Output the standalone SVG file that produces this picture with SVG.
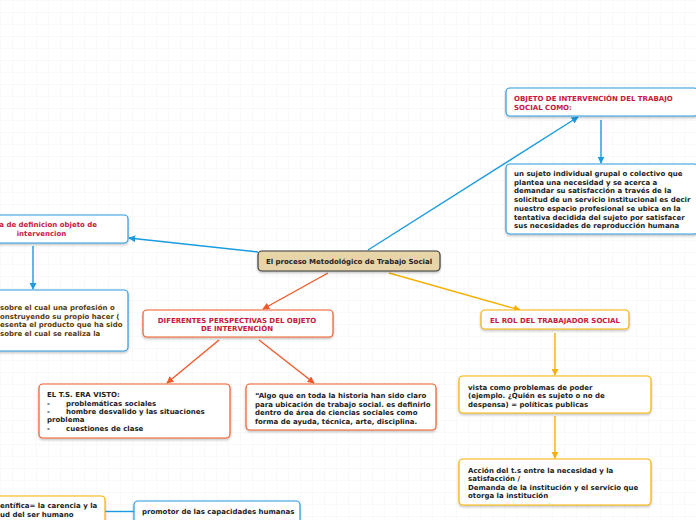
<svg xmlns="http://www.w3.org/2000/svg" width="696" height="520" viewBox="0 0 696 520">
<defs>
<pattern id="grid" width="12" height="12" patternUnits="userSpaceOnUse"><path d="M12 0H0V12" fill="none" stroke="#f3f3f3" stroke-width="1"/></pattern>
<filter id="sh" x="-10%" y="-20%" width="120%" height="150%"><feDropShadow dx="0" dy="1.5" stdDeviation="1" flood-color="#000" flood-opacity="0.25"/></filter>
<marker id="ab" viewBox="0 0 10 10" refX="9" refY="5" markerWidth="7" markerHeight="7" orient="auto-start-reverse" markerUnits="userSpaceOnUse"><path d="M0 0L10 5L0 10z" fill="#1a9be0"/></marker>
<marker id="ar" viewBox="0 0 10 10" refX="9" refY="5" markerWidth="7" markerHeight="7" orient="auto-start-reverse" markerUnits="userSpaceOnUse"><path d="M0 0L10 5L0 10z" fill="#f05a2a"/></marker>
<marker id="ay" viewBox="0 0 10 10" refX="9" refY="5" markerWidth="7" markerHeight="7" orient="auto-start-reverse" markerUnits="userSpaceOnUse"><path d="M0 0L10 5L0 10z" fill="#f7b000"/></marker>
</defs>
<style>
text{font-family:"DejaVu Sans","Liberation Sans",sans-serif;font-weight:bold;font-size:7px;fill:#222}
.red{fill:#c8163c}
.brown{fill:#5b3a0c}
.c{text-anchor:middle}
rect{filter:url(#sh)}
.nb{fill:#fff;stroke:#2a9be0;stroke-width:1.2}
.nr{fill:#fff;stroke:#f05a2a;stroke-width:1.2}
.ny{fill:#fff;stroke:#f7b000;stroke-width:1.2}
.lb{stroke:#1a9be0;stroke-width:1.4;fill:none}
.lr{stroke:#f05a2a;stroke-width:1.4;fill:none}
.ly{stroke:#f7b000;stroke-width:1.4;fill:none}
</style>
<rect width="696" height="520" fill="#fff" style="filter:none"/>
<rect width="696" height="520" fill="url(#grid)" style="filter:none"/>
<g id="connectors">
<line class="lb" x1="368" y1="250" x2="578" y2="117" marker-end="url(#ab)"/>
<line class="lb" x1="601" y1="120" x2="601" y2="163" marker-end="url(#ab)"/>
<line class="lb" x1="258" y1="252" x2="129" y2="238" marker-end="url(#ab)"/>
<line class="lb" x1="33" y1="246" x2="33" y2="289" marker-end="url(#ab)"/>
<line class="lr" x1="328" y1="273" x2="263" y2="309" marker-end="url(#ar)"/>
<line class="lr" x1="219" y1="340" x2="167" y2="383" marker-end="url(#ar)"/>
<line class="lr" x1="259" y1="340" x2="314" y2="383" marker-end="url(#ar)"/>
<line class="ly" x1="389" y1="273" x2="520" y2="310" marker-end="url(#ay)"/>
<line class="ly" x1="555" y1="333" x2="555" y2="375" marker-end="url(#ay)"/>
<line class="ly" x1="555" y1="416" x2="555" y2="458" marker-end="url(#ay)"/>
<line class="lb" x1="105" y1="511.5" x2="134" y2="511.5"/>
</g>
<g id="center">
<rect x="258" y="251" width="182" height="20" rx="4" fill="#e7d4a8" stroke="#3a3a3a" stroke-width="1.2"/>
<text class="c" x="349" y="264">El proceso Metodológico de Trabajo Social</text>
</g>
<g id="objeto">
<rect class="nb" x="506" y="88" width="192" height="28" rx="4"/>
<text class="red" x="514" y="101">OBJETO DE INTERVENCIÓN DEL TRABAJO</text>
<text class="red" x="514" y="110">SOCIAL COMO:</text>
</g>
<g id="sujeto">
<rect class="nb" x="506" y="164" width="192" height="70" rx="4"/>
<text x="514" y="176">un sujeto individual grupal o colectivo que</text>
<text x="514" y="184.7">plantea una necesidad y se acerca a</text>
<text x="514" y="193.4">demandar su satisfacción a través de la</text>
<text x="514" y="202.1">solicitud de un servicio institucional es decir</text>
<text x="514" y="210.8">nuestro espacio profesional se ubica en la</text>
<text x="514" y="219.5">tentativa decidida del sujeto por satisfacer</text>
<text x="514" y="228.2">sus necesidades de reproducción humana</text>
</g>
<g id="forma">
<rect class="nb" x="-20" y="215" width="148" height="28" rx="4"/>
<text class="red" x="97" y="227" style="text-anchor:end">a de definicion objeto de</text>
<text class="red c" x="41.5" y="236">intervencion</text>
</g>
<g id="sobre">
<rect class="nb" x="-20" y="290" width="148" height="61" rx="4"/>
<text class="brown" x="0" y="310">sobre el cual una profesión o</text>
<text class="brown" x="0" y="318.7">onstruyendo su propio hacer (</text>
<text class="brown" x="0" y="327.4">esenta el producto que ha sido</text>
<text class="brown" x="0" y="336.1"> sobre el cual se realiza la</text>
</g>
<g id="diferentes">
<rect class="nr" x="143" y="310" width="190" height="27" rx="4"/>
<text class="red c" x="237" y="322.5">DIFERENTES PERSPECTIVAS DEL OBJETO</text>
<text class="red c" x="237" y="330.5">DE INTERVENCIÓN</text>
</g>
<g id="rol">
<rect class="ny" x="481" y="310" width="148" height="19" rx="4"/>
<text class="red c" x="555" y="322.5">EL ROL DEL TRABAJADOR SOCIAL</text>
</g>
<g id="elts">
<rect class="nr" x="39" y="384" width="191" height="54" rx="4"/>
<text x="47" y="397">EL T.S. ERA VISTO:</text>
<text x="47" y="405.5">-</text><text x="66" y="405.5">problemáticas sociales</text>
<text x="47" y="414">-</text><text x="66" y="414">hombre desvalido y las situaciones</text>
<text x="47" y="422.3">problema</text>
<text x="47" y="430.7">-</text><text x="66" y="430.7">cuestiones de clase</text>
</g>
<g id="algo">
<rect class="nr" x="246" y="384" width="190" height="46" rx="4"/>
<text x="255" y="398">“Algo que en toda la historia han sido claro</text>
<text x="255" y="406.5">para ubicación de trabajo social. es definirlo</text>
<text x="255" y="415">dentro de área de ciencias sociales como</text>
<text x="255" y="423.5">forma de ayuda, técnica, arte, disciplina.</text>
</g>
<g id="vista">
<rect class="ny" x="459" y="376" width="192" height="37" rx="4"/>
<text x="468" y="389.5">vista como problemas de poder</text>
<text x="468" y="398">(ejemplo. ¿Quién es sujeto o no de</text>
<text x="468" y="406.5">despensa) = políticas publicas</text>
</g>
<g id="accion">
<rect class="ny" x="459" y="459" width="192" height="46" rx="4"/>
<text x="468" y="472.5">Acción del t.s entre la necesidad y la</text>
<text x="468" y="481">satisfacción /</text>
<text x="468" y="489.5">Demanda de la institución y el servicio que</text>
<text x="468" y="498">otorga la institución</text>
</g>
<g id="carencia">
<rect class="ny" x="-20" y="496" width="125" height="34" rx="4"/>
<text x="0" y="508">entífica= la carencia y la</text>
<text x="0" y="516.5">ud del ser humano</text>
</g>
<g id="promotor">
<rect class="nb" x="134" y="501" width="166" height="28" rx="4"/>
<text x="142" y="514">promotor de las capacidades humanas</text>
</g>
</svg>
